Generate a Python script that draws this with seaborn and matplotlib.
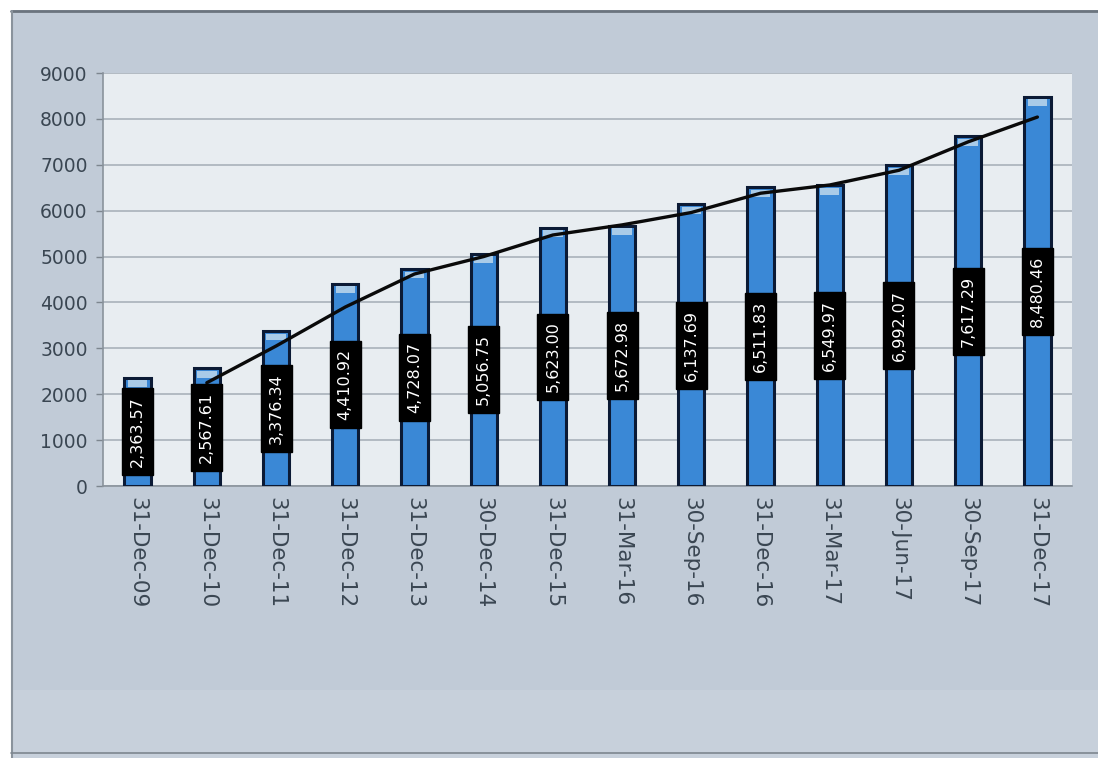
import matplotlib
matplotlib.use("Agg")
import matplotlib.pyplot as plt
from matplotlib.patches import Rectangle
import numpy as np
import pandas as pd
import seaborn as sns

# Period-end dates and the reported totals
dates = ["31-Dec-09", "31-Dec-10", "31-Dec-11", "31-Dec-12", "31-Dec-13",
         "30-Dec-14", "31-Dec-15", "31-Mar-16", "30-Sep-16", "31-Dec-16",
         "31-Mar-17", "30-Jun-17", "30-Sep-17", "31-Dec-17"]
values = [2363.57, 2567.61, 3376.34, 4410.92, 4728.07, 5056.75, 5623.00,
          5672.98, 6137.69, 6511.83, 6549.97, 6992.07, 7617.29, 8480.46]
value_labels = ["2,363.57", "2,567.61", "3,376.34", "4,410.92", "4,728.07",
                "5,056.75", "5,623.00", "5,672.98", "6,137.69", "6,511.83",
                "6,549.97", "6,992.07", "7,617.29", "8,480.46"]
# Trend line (starts at the second period)
trend = [None, 2250, 3050, 3900, 4620, 5000, 5470, 5690, 5960, 6380,
         6560, 6880, 7500, 8040]
y_ticks = [0, 1000, 2000, 3000, 4000, 5000, 6000, 7000, 8000, 9000]

sns.set_theme(style="white")
plt.rcParams["font.family"] = ["DejaVu Sans"]

fig = plt.figure(figsize=(10.98, 7.58), dpi=100)
fig.patch.set_facecolor("#c1cbd7")

# Panel frame: white margin at top/left, lighter band at the bottom
fig.patches.append(Rectangle((0, 0.0), 1, 0.09, transform=fig.transFigure,
                             facecolor="#c7d0db", edgecolor="none", zorder=0))
fig.patches.append(Rectangle((0, 1 - 10 / 758), 1, 10 / 758, transform=fig.transFigure,
                             facecolor="white", edgecolor="none", zorder=1))
fig.patches.append(Rectangle((0, 0), 11 / 1098, 1, transform=fig.transFigure,
                             facecolor="white", edgecolor="none", zorder=1))
fig.lines.append(plt.Line2D([11 / 1098, 1], [1 - 11 / 758, 1 - 11 / 758],
                            transform=fig.transFigure, color="#6b747e", lw=2, zorder=2))
fig.lines.append(plt.Line2D([12 / 1098, 12 / 1098], [0, 1 - 11 / 758],
                            transform=fig.transFigure, color="#8a939c", lw=1.5, zorder=2))
fig.lines.append(plt.Line2D([11 / 1098, 1], [5 / 758, 5 / 758],
                            transform=fig.transFigure, color="#7d868f", lw=1.2, zorder=2))

ax = fig.add_axes([103 / 1098, 1 - 486 / 758, (1072 - 103) / 1098, (486 - 73) / 758])
ax.set_facecolor("#e8edf1")

df = pd.DataFrame({"date": dates, "value": values})
sns.barplot(data=df, x="date", y="value", color="#3a88d6", saturation=1,
            edgecolor="#0b1a35", linewidth=2.2, width=0.38, ax=ax, zorder=3)

# light highlight cap at the top of each bar
for i, v in enumerate(values):
    ax.bar(i, 150, bottom=v - 205, width=0.28, color="#a9cbe8", edgecolor="none",
           zorder=4)

# trend line
tx = [i for i, t in enumerate(trend) if t is not None]
ty = [t for t in trend if t is not None]
sns.lineplot(x=tx, y=ty, color="#0a0a0a", linewidth=2.4, ax=ax, zorder=6,
             sort=False)

# value labels in black boxes, centred on each bar
for i, (v, lab) in enumerate(zip(values, value_labels)):
    ax.text(i, v / 2, lab, rotation=90, ha="center", va="center",
            color="white", fontsize=11.5, zorder=7,
            bbox=dict(boxstyle="square,pad=0.5", facecolor="black",
                      edgecolor="black"))

ax.set_xlim(-0.5, len(dates) - 0.5)
ax.set_ylim(0, 9000)
ax.set_yticks(y_ticks)
ax.set_yticklabels([str(t) for t in y_ticks], fontsize=13.5, color="#3a4652")
ax.set_xticks(range(len(dates)))
ax.set_xticklabels(dates, rotation=270, fontsize=15.5, color="#3a4652",
                   va="top", ha="center")
ax.tick_params(axis="x", length=0, pad=8)
ax.tick_params(axis="y", length=5, width=1, color="#7d868f", pad=6, left=True)
ax.set_xlabel("")
ax.set_ylabel("")

ax.grid(axis="y", color="#a3acb5", linewidth=1.1, zorder=1)
ax.set_axisbelow(True)
for s in ["top", "right"]:
    ax.spines[s].set_visible(False)
ax.spines["left"].set_color("#8a939c")
ax.spines["bottom"].set_color("#8a939c")
ax.spines["left"].set_linewidth(1.2)
ax.spines["bottom"].set_linewidth(1.2)

fig.savefig("out.png", dpi=100, facecolor=fig.get_facecolor())
